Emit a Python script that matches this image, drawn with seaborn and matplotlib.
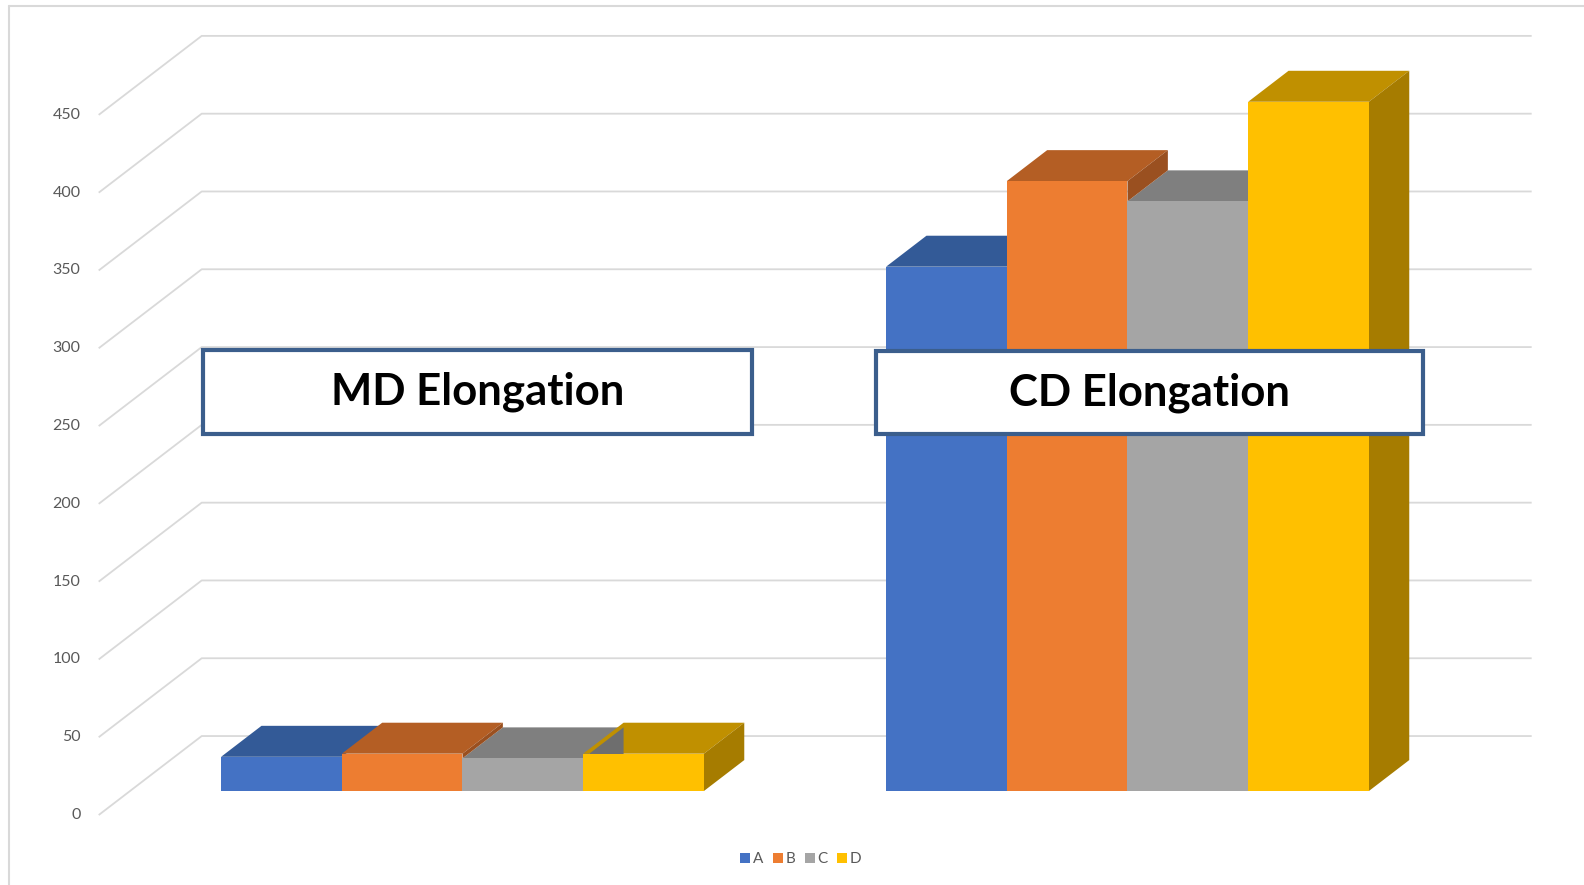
import numpy as np
import pandas as pd
import matplotlib.pyplot as plt
import seaborn as sns
from matplotlib.patches import Polygon, Rectangle
from matplotlib.lines import Line2D

sns.set_style('white')
plt.rcParams['font.family'] = ['Lato', 'DejaVu Sans']

# data
groups = ['MD', 'CD']
series = ['A', 'B', 'C', 'D']
md_vals = [22, 24, 21, 24]
cd_vals = [337, 392, 379, 443]
yticks = [0, 50, 100, 150, 200, 250, 300, 350, 400, 450]

front_cols = ['#4472C4', '#ED7D31', '#A5A5A5', '#FFC000']
top_cols = ['#335A97', '#B45E24', '#7F7F7F', '#C09000']
side_cols = ['#2B4C80', '#9A5020', '#6E6E6E', '#A67C00']

df = pd.DataFrame({
    'group': np.repeat(groups, len(series)),
    'series': series * len(groups),
    'value': md_vals + cd_vals,
})

# fake 3d: depth shift of one full floor depth, in data units
DX = 0.1549
DY = 50.77
d0, d1 = 0.304, 0.696          # front / back of the bars
ddx = (d1 - d0) * DX
ddy = (d1 - d0) * DY

fig = plt.figure(figsize=(15.84, 8.85), dpi=100)
ax = fig.add_axes([0, 0, 1, 1])

sns.barplot(data=df, x='group', y='value', hue='series', order=groups,
            hue_order=series, palette=front_cols, saturation=1, width=0.726,
            linewidth=0, errorbar=None, zorder=3, ax=ax)

ax.set_xlim(-0.6955, 1.6865)
ax.set_ylim(-60.4, 508.4)
ax.set_axis_off()

# tops and sides of the bars
n = len(series)
bars = sorted(ax.patches, key=lambda p: p.get_x())
for i, p in enumerate(bars):
    k = i % n
    x0 = p.get_x()
    x1 = x0 + p.get_width()
    h = p.get_height()
    top = [(x0, h), (x1, h), (x1 + ddx, h + ddy), (x0 + ddx, h + ddy)]
    ax.add_patch(Polygon(top, closed=True, fc=top_cols[k], ec='none', zorder=1.5))
    # side only shows above the next bar in the group
    b = bars[i + 1].get_height() if k < n - 1 else 0
    if b < h:
        side = [(x1, b), (x1, h), (x1 + ddx, h + ddy), (x1 + ddx, b + ddy)]
        ax.add_patch(Polygon(side, closed=True, fc=side_cols[k], ec='none', zorder=2))

# gridlines on side wall and back wall
grid_col = '#D9D9D9'
xl, xr = -0.5, 1.5
for v in yticks:
    fx, fy = xl - d0 * DX, v - d0 * DY
    bx, by = xl + (1 - d0) * DX, v + (1 - d0) * DY
    ax.plot([fx, bx, xr + (1 - d0) * DX], [fy, by, by], color=grid_col,
            lw=1.3, zorder=0.5, solid_capstyle='butt')
    ax.annotate(str(v), xy=(fx, fy), xytext=(-13, 0), textcoords='offset points',
                ha='right', va='center', fontsize=11.5, color='#595959')

# group title boxes
box_col = '#3B5E8C'
W, H = 1584, 885
boxes = [(203, 350, 752, 434), (876, 351, 1423, 434)]
for g, (l, t, r, b) in zip(groups, boxes):
    ax.add_patch(Rectangle((l / W, 1 - b / H), (r - l) / W, (b - t) / H,
                           transform=ax.transAxes, fc='white', ec=box_col,
                           lw=3, zorder=5))
    ax.text((l + r) / 2 / W, 1 - (t + b) / 2 / H, g + ' Elongation',
            transform=ax.transAxes, ha='center', va='center', fontsize=31.5,
            fontweight='bold', color='black', zorder=6)

# chart area border (top and left)
fig.add_artist(Line2D([9 / W, 1], [1 - 6 / H] * 2, color=grid_col, lw=1.5))
fig.add_artist(Line2D([9 / W] * 2, [0, 1 - 6 / H], color=grid_col, lw=1.5))

sns.move_legend(ax, 'center', bbox_to_anchor=(801 / W, 1 - 859 / H),
                ncol=4, title=None, frameon=False, fontsize=11,
                handlelength=0.65, handleheight=0.65, handletextpad=0.2,
                columnspacing=0.6, labelcolor='#595959')

fig.savefig('out.png', dpi=100)
